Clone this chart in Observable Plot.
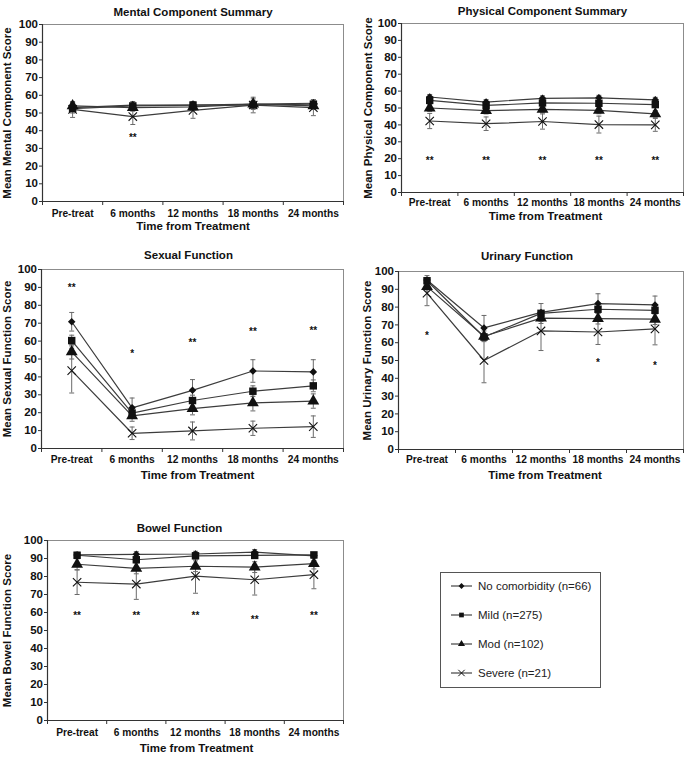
<!DOCTYPE html>
<html><head><meta charset="utf-8">
<script src="https://cdn.jsdelivr.net/npm/d3@7"></script>
<script src="https://cdn.jsdelivr.net/npm/@observablehq/plot@0.6"></script>
<style>
body{margin:0;background:#fff;}
#page{position:relative;width:685px;height:758px;font-family:"Liberation Sans",Arial,sans-serif;overflow:hidden;}
#page svg{position:absolute;}
</style></head><body><div id="page"></div>
<script>
// ---------- data ----------
const timepoints = ["Pre-treat", "6 months", "12 months", "18 months", "24 months"];
const groups = ["No comorbidity (n=66)", "Mild (n=275)", "Mod (n=102)", "Severe (n=21)"];
const yTickValues = [0, 10, 20, 30, 40, 50, 60, 70, 80, 90, 100];

// Mental Component Summary (rows: none, mild, mod, severe)
const mentalMeans = [
  [53, 54.5, 54.5, 55, 55.5],
  [52.5, 54, 54.5, 54.5, 55],
  [54, 53, 53.5, 55, 54],
  [52, 48, 51.5, 54.5, 53]
];
const mentalErrs = [
  [3, 2, 2, 3, 2],
  [1.5, 1, 1, 1, 1],
  [2, 2, 2, 2, 2],
  [4.5, 4.5, 4.5, 4.4, 4.5]
];
const mentalSig = ["", "**", "", "", ""];
const mentalSigY = [0, 36, 0, 0, 0];

// Physical Component Summary
const physicalMeans = [
  [56.5, 53.5, 55.7, 56, 54.8],
  [54.5, 51.5, 53, 52.8, 52],
  [50, 48.5, 49.2, 48.6, 46.5],
  [42.3, 40.7, 42, 40.2, 40]
];
const physicalErrs = [
  [1.5, 1.5, 1.5, 1.5, 1.5],
  [1, 1, 1, 1, 1],
  [2, 2, 2, 2, 2],
  [4.5, 4, 4.5, 5, 3.8]
];
const physicalSig = ["**", "**", "**", "**", "**"];
const physicalSigY = [19, 19, 19, 19, 19];

// Sexual Function
const sexualMeans = [
  [70.8, 22.7, 32.5, 43.3, 42.8],
  [60.3, 19.8, 26.8, 32, 35],
  [54, 18.2, 22.3, 25.5, 26.5],
  [43.5, 8.5, 9.8, 11.3, 12.2]
];
const sexualErrs = [
  [5.2, 5.5, 6, 6.3, 6.8],
  [3, 2.5, 3, 3, 3.3],
  [4, 3, 3.5, 4.5, 4],
  [12.5, 3.5, 5, 4, 6]
];
const sexualSig = ["**", "*", "**", "**", "**"];
const sexualSigY = [90, 53, 59, 65, 65.5];

// Urinary Function
const urinaryMeans = [
  [95.2, 68.3, 77, 82, 81.2],
  [94.8, 63.2, 76.5, 78.8, 78.2],
  [91.5, 63.6, 73.8, 73.5, 73.2],
  [87.8, 50, 66.6, 66, 67.8]
];
const urinaryErrs = [
  [2.5, 7, 5, 5.5, 5],
  [1.5, 2, 1.5, 1.5, 1.5],
  [2.5, 3, 3, 3, 3],
  [7, 12.5, 11, 7, 9]
];
const urinarySig = ["*", "", "", "*", "*"];
const urinarySigY = [64, 0, 0, 48.5, 47.2];

// Bowel Function
const bowelMeans = [
  [92, 92.3, 92.5, 93.5, 91.5],
  [91.8, 89.3, 91.5, 91.7, 92],
  [86.8, 84.5, 85.7, 85.2, 87.2],
  [76.8, 75.8, 80.2, 78.2, 81]
];
const bowelErrs = [
  [1.5, 1.5, 1.5, 1.5, 1.5],
  [1, 1, 1, 1, 1],
  [3, 3, 3, 3, 3],
  [6.8, 8.5, 9.5, 8.5, 7.8]
];
const bowelSig = ["**", "**", "**", "**", "**"];
const bowelSigY = [58, 58, 58, 56, 58];

// ---------- drawing ----------
const FONT = "Liberation Sans, Arial, Helvetica, sans-serif";
const groupSymbols = ["diamond2", "square", "triangle", "times"];
const groupR = [3.4, 4.2, 4.4, 3.9];
const capSymbol = {draw(ctx, size) { const w = Math.sqrt(size) / 2; ctx.moveTo(-w, 0); ctx.lineTo(w, 0); }};
const page = document.getElementById("page");

function panel(cfg) {
  const rows = [];
  groups.forEach((g, gi) => timepoints.forEach((t, ti) => rows.push({group: g, gi, ti, mean: cfg.means[gi][ti], err: cfg.errs[gi][ti]})));
  const sig = timepoints.map((t, ti) => ({ti, label: cfg.sig[ti], y: cfg.sigY[ti]})).filter(d => d.label);
  const centers = timepoints.map((t, i) => i);
  const bounds = d3.range(-0.5, timepoints.length, 1);
  const marks = [
    Plot.frame({stroke: "#8c8c8c", strokeWidth: 1}),
    Plot.axisY({ticks: yTickValues, tickSize: 3, tickPadding: 1.5, fontSize: 11.5, label: null, stroke: "#333"}),
    Plot.axisX({ticks: centers, tickFormat: i => timepoints[i], tickSize: 0, tickPadding: cfg.xTickPad, fontSize: 10.2, label: null}),
    Plot.axisX({ticks: bounds, tickFormat: () => "", tickSize: 4, label: null, stroke: "#333"}),
    Plot.ruleX([bounds[0]], {stroke: "#333", strokeWidth: 1.2}),
    Plot.ruleY([0], {stroke: "#333", strokeWidth: 1.2}),
    Plot.ruleX(rows, {x: "ti", y1: d => d.mean - d.err, y2: d => d.mean + d.err, stroke: "#6a6a6a", strokeWidth: 1}),
    Plot.dot(rows, {x: "ti", y: d => d.mean + d.err, symbol: capSymbol, r: 2.8, stroke: "#6a6a6a", strokeWidth: 1}),
    Plot.dot(rows, {x: "ti", y: d => d.mean - d.err, symbol: capSymbol, r: 2.8, stroke: "#6a6a6a", strokeWidth: 1}),
    Plot.line(rows, {x: "ti", y: "mean", z: "group", stroke: "#3c3c3c", strokeWidth: 1.2})
  ];
  groups.forEach((g, gi) => {
    const sym = groupSymbols[gi];
    const data = rows.filter(d => d.gi === gi);
    if (sym === "times") {
      marks.push(Plot.dot(data, {x: "ti", y: "mean", symbol: sym, r: groupR[gi], stroke: "#111", strokeWidth: 1.1, fill: "none"}));
    } else {
      marks.push(Plot.dot(data, {x: "ti", y: "mean", symbol: sym, r: groupR[gi], fill: "#111", stroke: "none"}));
    }
  });
  marks.push(
    Plot.text(sig, {x: "ti", y: "y", text: "label", fontSize: 10, fill: "#000", fillOpacity: 0.95}),
    Plot.text([cfg.title], {frameAnchor: "top", dy: cfg.titleDy, dx: cfg.titleDx, fontSize: 11.5, textAnchor: "middle"}),
    Plot.text(["Time from Treatment"], {frameAnchor: "bottom", dy: cfg.xLabelDy, dx: cfg.xLabelDx, fontSize: 11.5, textAnchor: "middle"}),
    Plot.text([cfg.ylabel], {frameAnchor: "left", rotate: -90, dx: -cfg.yLabelDx, fontSize: 11.5, textAnchor: "middle"})
  );
  const svg = Plot.plot({
    width: cfg.w, height: cfg.h,
    marginLeft: cfg.mL, marginRight: cfg.mR, marginTop: cfg.mT, marginBottom: cfg.mB,
    style: {background: "transparent", fontFamily: FONT, fontWeight: "bold", fontSize: "11px", overflow: "visible", color: "#111"},
    x: {type: "linear", domain: [bounds[0], bounds[bounds.length - 1]], axis: null},
    y: {domain: [0, 100], axis: null},
    marks
  });
  svg.style.left = cfg.x0 + "px";
  svg.style.top = cfg.y0 + "px";
  page.appendChild(svg);
}

panel({title: "Mental Component Summary", ylabel: "Mean Mental Component Score",
  means: mentalMeans, errs: mentalErrs, sig: mentalSig, sigY: mentalSigY,
  x0: 0, y0: 0, w: 345, h: 240, mL: 42, mR: 2, mT: 24, mB: 39,
  titleDy: -17, titleDx: 0, xTickPad: 8, xLabelDy: 28, xLabelDx: 0, yLabelDx: 35});

panel({title: "Physical Component Summary", ylabel: "Mean Physical Component Score",
  means: physicalMeans, errs: physicalErrs, sig: physicalSig, sigY: physicalSigY,
  x0: 345, y0: 0, w: 340, h: 240, mL: 56, mR: 2, mT: 23, mB: 48,
  titleDy: -16.5, titleDx: 0, xTickPad: 6.5, xLabelDy: 27, xLabelDx: 3, yLabelDx: 33});

panel({title: "Sexual Function", ylabel: "Mean Sexual Function Score",
  means: sexualMeans, errs: sexualErrs, sig: sexualSig, sigY: sexualSigY,
  x0: 0, y0: 240, w: 345, h: 255, mL: 41, mR: 2, mT: 29, mB: 47,
  titleDy: -19, titleDx: -4, xTickPad: 7, xLabelDy: 30, xLabelDx: 5, yLabelDx: 34});

panel({title: "Urinary Function", ylabel: "Mean Urinary Function Score",
  means: urinaryMeans, errs: urinaryErrs, sig: urinarySig, sigY: urinarySigY,
  x0: 345, y0: 240, w: 340, h: 255, mL: 53, mR: 2, mT: 31, mB: 46,
  titleDy: -20, titleDx: -14, xTickPad: 6.5, xLabelDy: 29, xLabelDx: 4, yLabelDx: 31});

panel({title: "Bowel Function", ylabel: "Mean Bowel Function Score",
  means: bowelMeans, errs: bowelErrs, sig: bowelSig, sigY: bowelSigY,
  x0: 0, y0: 505, w: 345, h: 253, mL: 47, mR: 2, mT: 35, mB: 38,
  titleDy: -17, titleDx: -16, xTickPad: 8, xLabelDy: 31.5, xLabelDx: 1, yLabelDx: 40});

// ---------- legend ----------
(function legend() {
  const W = 161, H = 116;
  const svg = d3.create("svg").attr("width", W).attr("height", H)
    .style("left", "440px").style("top", "572px").style("overflow", "visible");
  svg.append("rect").attr("x", 0.5).attr("y", 0.5).attr("width", W - 1).attr("height", H - 1)
    .attr("fill", "white").attr("stroke", "#555").attr("stroke-width", 1);
  const rowY = d3.scalePoint().domain(groups).range([14, 101]);
  const symType = {diamond2: d3.symbolDiamond2, square: d3.symbolSquare, triangle: d3.symbolTriangle, times: d3.symbolTimes};
  groups.forEach((g, gi) => {
    const y = rowY(g);
    const row = svg.append("g").attr("transform", `translate(0,${y})`);
    row.append("line").attr("x1", 11).attr("x2", 32).attr("y1", 0).attr("y2", 0).attr("stroke", "#444").attr("stroke-width", 1.2);
    const sym = groupSymbols[gi];
    const size = [22, 22, 22, 28][gi];
    const p = row.append("path").attr("transform", "translate(21.5,0)").attr("d", d3.symbol(symType[sym], size)());
    if (sym === "times") p.attr("fill", "none").attr("stroke", "#111").attr("stroke-width", 1);
    else p.attr("fill", "#111");
    row.append("text").attr("x", 38).attr("y", 0).attr("dy", "0.35em")
      .attr("font-family", FONT).attr("font-size", 11.5).attr("fill", "#222").text(g);
  });
  page.appendChild(svg.node());
})();
</script></body></html>
